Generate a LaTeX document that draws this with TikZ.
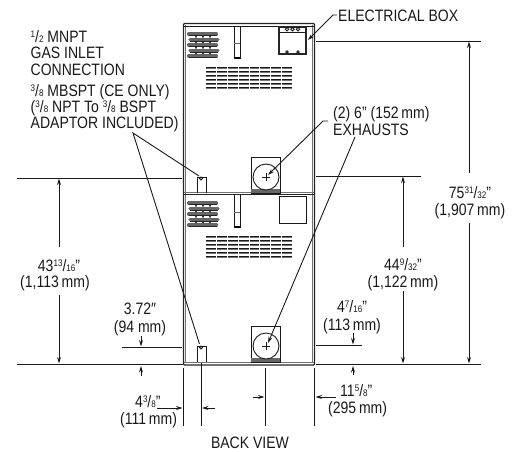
\documentclass[tikz,border=0pt]{standalone}
\usepackage{fontspec}
\setmainfont[FakeStretch=0.85]{Liberation Sans}
\usetikzlibrary{arrows.meta}
\newcommand{\frc}[2]{{\fontsize{9.5}{9.5}\selectfont\raisebox{4.8pt}{#1}}/{\fontsize{9.5}{9.5}\selectfont #2}}
\tikzset{
    lbl/.style={anchor=base west,inner sep=0pt,font=\fontsize{16.5}{17}\selectfont,text=black!90},
    lblc/.style={lbl,anchor=base},
    wall/.style={line width=1.2pt,color=black!85},
    thin line/.style={line width=0.9pt,color=black!90},
    tip/.style={thin line,-{Stealth[length=6.5pt,width=4pt]}},
    louver/.style={line width=2.2pt,color=black!55},
    fin/.style={line width=3.2pt,color=black!60,line cap=round}
}
\begin{document}
\begin{tikzpicture}[x=1pt,y=-1pt]
    \useasboundingbox (0,0) rectangle (516,451);

    % cabinet
    \draw[wall,rounded corners=1pt] (183.5,23.5) rectangle (314.5,365);
    \draw[thin line,color=black!55] (185.5,24.5) -- (185.5,363) (312.5,24.5) -- (312.5,363);
    \draw[thin line] (184,26) -- (314,26);
    \draw[wall] (184,194.5) -- (314,194.5);
    \draw[thin line,color=black!55] (184,192.5) -- (314,192.5);
    \draw[thin line,color=black!55] (184,362.5) -- (314,362.5);

    % both units share everything but the electrical box
    \foreach \top in {0,169} {
        \begin{scope}[yshift=-\top pt]
            \foreach \y/\off in {34/0,39.5/1.5,45/0,50.5/1.5,56/0} {
                \draw[fin] (188.5+\off,\y) -- (216.5+\off,\y);
                \draw[line width=0.7pt,color=black!85] (188.5+\off,\y+1.6) -- (216.5+\off,\y+1.6);
            }
            \foreach \x in {196,203,210} {
                \foreach \y in {36.7,42.2,47.7,53.2} {
                    \fill[black!85] (\x,\y) circle (1.1);
                }
            }
            \draw[thin line] (234,26) -- (234,58) -- (240,58) -- (240,26);
            \draw[line width=1.4pt,color=black] (234.5,58) -- (239.5,58);
            \draw[thin line,color=black!60] (234,43) -- (240,43);
            \foreach \y in {68,72,76,80,84,88} {
                \draw[louver] (206,\y) -- (292,\y);
                \draw[line width=0.6pt,color=black!90] (206,\y-0.9) -- (292,\y-0.9);
            }
            \foreach \x in {216.8,227.5,238.3,249,259.8,270.5,281.3} {
                \draw[line width=0.7pt,color=white] (\x,66) -- (\x,90);
            }
            \draw[thin line] (251,157) rectangle (280,193);
            \fill[black!60] (251,189) rectangle (280,193);
            \draw[thin line,fill=white] (266,177) circle (13);
            \draw[thin line] (262,177) -- (270,177) (266,173) -- (266,181);
            \draw[thin line] (197,193) -- (197,177) -- (206,177) -- (206,193);
            \draw[thin line] (201,178.5) circle (1.4);
        \end{scope}
    }

    % electrical box
    \draw[wall] (279,27) rectangle (306,54);
    \draw[thin line] (279,32) -- (306,32);
    \foreach \x in {287,292.5,298} {
        \draw[thin line] (\x,29.3) circle (1.8);
    }
    \draw[thin line] (287,52) circle (1.3) (298,52) circle (1.3);
    \draw[thin line] (279,196) rectangle (306,223);

    % extension lines
    \draw[thin line] (316,41) -- (481,41);
    \draw[thin line] (17,178) -- (182,178);
    \draw[thin line] (316,176) -- (421,176);
    \draw[thin line] (17,364) -- (183,364);
    \draw[thin line] (316,364) -- (481,364);
    \draw[thin line] (122,347) -- (182,347);
    \draw[thin line] (316,345) -- (362,345);
    \draw[thin line] (183,368) -- (183,426);
    \draw[thin line] (201,363) -- (201,426);
    \draw[thin line] (265,368) -- (265,426);
    \draw[thin line] (314.5,368) -- (314.5,426);

    % dimension arrows
    \draw[tip] (59,247) -- (59,178.5);
    \draw[tip] (59,295) -- (59,363.5);
    \draw[tip] (403,247) -- (403,176.5);
    \draw[tip] (403,291) -- (403,363.5);
    \draw[tip] (469,173) -- (469,41.5);
    \draw[tip] (469,223) -- (469,363.5);
    \draw[tip] (141,336) -- (141,346.5);
    \draw[tip] (141,376) -- (141,366);
    \draw[tip] (353,333) -- (353,344.5);
    \draw[tip] (353,375) -- (353,366);
    \draw[tip] (157,408) -- (182.5,408);
    \draw[tip] (215,408) -- (202,408);
    \draw[tip] (253,397) -- (264.5,397);
    \draw[tip] (336,397) -- (315.5,397);

    % leaders
    \coordinate (gasapex) at (133,133);
    \coordinate (gastop) at (199,176);
    \coordinate (gasbot) at (199.5,344);
    \draw[thin line] (gastop) -- (gasapex) -- (gasbot);
    \draw[tip] (337,15) -- (333,15) -- (308,40);
    \draw[tip] (328,121) -- (323,121) -- (268,175);
    \draw[tip] (355,137) -- (268,343);

    % labels
    \node[lbl] (gasa) at (30.5,42) {\frc{1}{2} MNPT};
    \node[lbl] (gasb) at (30.5,58) {GAS INLET};
    \node[lbl] (gasc) at (30.5,75) {CONNECTION};
    \node[lbl] (gasd) at (30.5,96) {\frc{3}{8} MBSPT (CE ONLY)};
    \node[lbl] (gase) at (30.5,112) {(\frc{3}{8} NPT To \frc{3}{8} BSPT};
    \node[lbl] (gasf) at (30.5,128) {ADAPTOR INCLUDED)};
    \node[lbl] (elbox) at (338,21) {ELECTRICAL BOX};
    \node[lbl] (exha) at (333,118) {(2) 6" (152\,mm)};
    \node[lbl] (exhb) at (333,135) {EXHAUSTS};
    \node[lblc] (tota) at (470,198) {75\frc{31}{32}"};
    \node[lblc] (totb) at (470,215) {(1,907\,mm)};
    \node[lblc] (uppa) at (403,270) {44\frc{9}{32}"};
    \node[lblc] (uppb) at (403,287) {(1,122\,mm)};
    \node[lblc] (lowa) at (59,271) {43\frc{13}{16}"};
    \node[lblc] (lowb) at (55,287) {(1,113\,mm)};
    \node[lblc] (inla) at (140,314) {3.72″};
    \node[lblc] (inlb) at (140,332) {(94 mm)};
    \node[lblc] (flua) at (352,312) {4\frc{7}{16}"};
    \node[lblc] (flub) at (352,330) {(113\,mm)};
    \node[lbl] (sida) at (135,407) {4\frc{3}{8}"};
    \node[lbl] (sidb) at (120,424) {(111\,mm)};
    \node[lbl] (cena) at (340,396) {11\frc{5}{8}"};
    \node[lbl] (cenb) at (328,413) {(295\,mm)};
    \node[lblc] (title) at (250,448) {BACK VIEW};
\end{tikzpicture}
\end{document}
